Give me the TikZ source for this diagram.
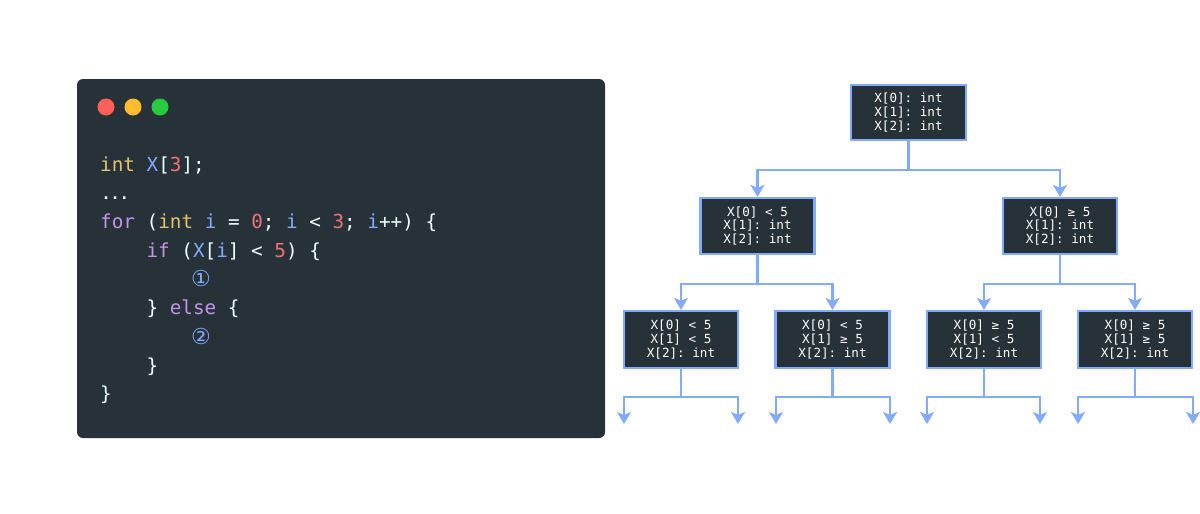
\documentclass[tikz,border=0pt]{standalone}
\usepackage{fontspec}
\setmonofont{DejaVu Sans Mono}
\newfontfamily\dejavu{DejaVu Sans}
\usetikzlibrary{arrows.meta}
\definecolor{panel}{HTML}{263238}
\definecolor{edge}{HTML}{82AAFF}
\definecolor{kw}{HTML}{C792EA}
\definecolor{ty}{HTML}{E2C36E}
\definecolor{var}{HTML}{82AAFF}
\definecolor{num}{HTML}{F07178}
\definecolor{codetext}{HTML}{EEFFFF}
\definecolor{dotred}{HTML}{FF5F56}
\definecolor{dotyellow}{HTML}{FFBD2E}
\definecolor{dotgreen}{HTML}{27C93F}
\tikzset{
  code/.style={anchor=base west, inner sep=0pt, text=codetext,
    font=\ttfamily\fontsize{19.3}{28.7}\selectfont},
  tbox/.style={draw=edge, line width=2.2pt, fill=panel, text=white, align=center,
    font=\ttfamily\fontsize{12.6}{13.6}\selectfont, minimum width=114pt,
    minimum height=56pt, inner sep=0pt},
  link/.style={draw=edge, line width=2.2pt},
  arr/.style={link, -{Stealth[length=12pt,width=14pt,inset=3pt]}},
  light/.style={circle, minimum size=17pt, inner sep=0pt},
  circnum/.style={code, font=\dejavu\fontsize{22}{28.7}\selectfont, text=var}
}
\newcommand{\K}[1]{\textcolor{kw}{#1}}
\newcommand{\T}[1]{\textcolor{ty}{#1}}
\newcommand{\V}[1]{\textcolor{var}{#1}}
\newcommand{\N}[1]{\textcolor{num}{#1}}
\begin{document}
\begin{tikzpicture}[x=1pt,y=-1pt]
\useasboundingbox (0,0) rectangle (1200,514);
\fill[white] (0,0) rectangle (1200,514);
% code panel
\node[fill=panel, rounded corners=6pt, minimum width=528pt, minimum height=359pt, inner sep=0pt] (panelbox) at (341,258.5) {};
\node[light, fill=dotred] (r) at (106,107) {};
\node[light, fill=dotyellow] (yl) at (133,107) {};
\node[light, fill=dotgreen] (g) at (160,107) {};
\node[code] (c1) at (100,171) {\T{int} \V{X}[\N{3}];};
\node[code, font=\ttfamily\bfseries\fontsize{15}{20}\selectfont] (c2) at (101.5,199) {...};
\node[code] (c3) at (100,228.5) {\K{for} (\T{int} \V{i} = \N{0}; \V{i} < \N{3}; \V{i}++) \{};
\node[code] (c4) at (146.4,257.2) {\K{if} (\V{X}[\V{i}] < \N{5}) \{};
\node[circnum] (c5) at (191,286.5) {①};
\node[code] (c6) at (146.4,314.6) {\} \K{else} \{};
\node[circnum] (c7) at (191,344) {②};
\node[code] (c8) at (146.4,372) {\}};
\node[code] (c9) at (100,400.7) {\}};
% tree
\node[tbox, minimum width=115pt, minimum height=55pt] (root) at (908.5,112.5) {X[0]: int\\X[1]: int\\X[2]: int};
\node[tbox] (a) at (757.5,226) {X[0] < 5\\X[1]: int\\X[2]: int};
\node[tbox] (b) at (1060,226) {X[0] ≥ 5\\X[1]: int\\X[2]: int};
\node[tbox, minimum height=57pt] (aa) at (681,339.5) {X[0] < 5\\X[1] < 5\\X[2]: int};
\node[tbox, minimum height=57pt] (ab) at (832.5,339.5) {X[0] < 5\\X[1] ≥ 5\\X[2]: int};
\node[tbox, minimum height=57pt] (ba) at (984,339.5) {X[0] ≥ 5\\X[1] < 5\\X[2]: int};
\node[tbox, minimum height=57pt] (bb) at (1135,339.5) {X[0] ≥ 5\\X[1] ≥ 5\\X[2]: int};
% connectors
\coordinate (j0) at (908.5,170);
\draw[link] (root.south) -- (j0);
\draw[arr] (j0) -| (a.north);
\draw[arr] (j0) -| (b.north);
\coordinate (ja) at (757.5,284);
\draw[link] (a.south) -- (ja);
\draw[arr] (ja) -| (aa.north);
\draw[arr] (ja) -| (ab.north);
\coordinate (jb) at (1060,284);
\draw[link] (b.south) -- (jb);
\draw[arr] (jb) -| (ba.north);
\draw[arr] (jb) -| (bb.north);
% leaves
\foreach \n/\l/\r in {aa/624/738, ab/776/890, ba/927/1040, bb/1078/1193}{
  \coordinate (\n j) at (\n.south |- 0,397);
  \coordinate (\n L) at (\l,424);
  \coordinate (\n R) at (\r,424);
  \draw[link] (\n.south) -- (\n j);
  \draw[arr] (\n j) -| (\n L);
  \draw[arr] (\n j) -| (\n R);
}
\end{tikzpicture}
\end{document}
